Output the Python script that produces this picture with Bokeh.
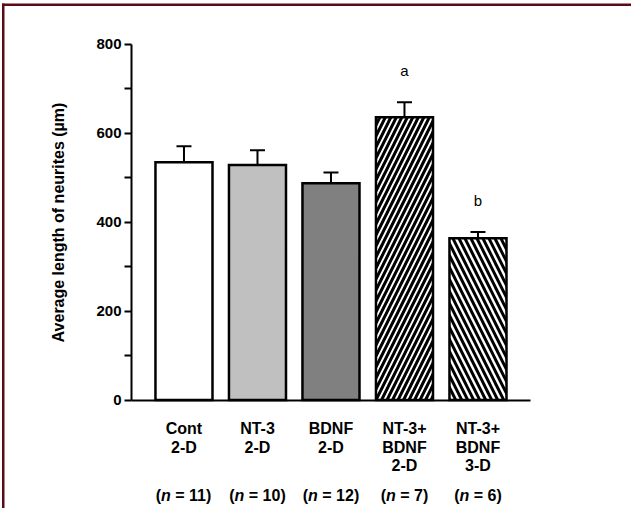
from bokeh.plotting import figure
from bokeh.models import (ColumnDataSource, FixedTicker, Whisker, TeeHead, Label,
                          BoxAnnotation, Range1d)
from bokeh.embed import file_html
from bokeh.resources import INLINE

# ---- data ----
categories = ["Cont\n2-D", "NT-3\n2-D", "BDNF\n2-D", "NT-3+\nBDNF\n2-D", "NT-3+\nBDNF\n3-D"]
means = [535, 529, 488, 636, 364]
sems = [36, 33, 24, 34, 14]
n_values = [11, 10, 12, 7, 6]
sig_letters = ["", "", "", "a", "b"]
fill_colors = ["#ffffff", "#c0c0c0", "#808080", "#ffffff", "#ffffff"]
hatches = [" ", " ", " ", "right_diagonal_line", "left_diagonal_line"]
hatch_scales = [11, 11, 11, 11, 12]
y_ticks = [0, 200, 400, 600, 800]
y_minor = [100, 300, 500, 700]

FONT = "Liberation Sans"
W, H = 631, 508
xs = list(range(1, len(categories) + 1))
uppers = [m + s for m, s in zip(means, sems)]

# pixel geometry of the reference (used only to set the ranges)
PX_X = 73.5          # pixels per category
PX_Y = 0.4444        # pixels per unit
X0_PIX, X0_VAL = 131, 0.286
Y0_PIX = 399.5

x_start = X0_VAL - X0_PIX / PX_X
x_end = X0_VAL + (W - X0_PIX) / PX_X
y_end = Y0_PIX / PX_Y
y_start = -(H - Y0_PIX) / PX_Y

src = ColumnDataSource(dict(x=xs, top=means, upper=uppers, fill=fill_colors,
                            hatch=hatches, hscale=hatch_scales))

p = figure(width=W, height=H, output_backend="svg", toolbar_location=None,
           x_range=Range1d(x_start, x_end), y_range=Range1d(y_start, y_end),
           min_border=0)
p.grid.visible = False
p.outline_line_color = None
p.background_fill_color = "white"
p.border_fill_color = "white"

p.vbar(x="x", top="top", width=0.776, source=src, fill_color="fill",
       line_color="black", line_width=2.5, line_join="miter",
       hatch_pattern="hatch", hatch_color="black", hatch_weight=3,
       hatch_scale="hscale")

w = Whisker(source=src, base="x", lower="top", upper="upper",
            line_color="black", line_width=2,
            upper_head=TeeHead(size=15, line_width=2, line_color="black"),
            lower_head=None)
p.add_layout(w)

# significance letters
for x, u, letter in zip(xs, uppers, sig_letters):
    if letter:
        p.add_layout(Label(x=x, y=u + 72, text=letter, text_align="center",
                           text_baseline="middle", text_font=FONT,
                           text_font_size="15px", text_color="black"))

# y axis (fixed inside the frame)
ya = p.yaxis[0]
ya.fixed_location = X0_VAL
ya.ticker = FixedTicker(ticks=y_ticks, minor_ticks=y_minor)
ya.bounds = (0, 800)
ya.axis_line_width = 2
ya.major_tick_line_width = 2
ya.minor_tick_line_width = 2
ya.major_tick_out = 7
ya.major_tick_in = 0
ya.minor_tick_out = 7
ya.minor_tick_in = 0
ya.major_label_standoff = 3
ya.major_label_text_font = FONT
ya.major_label_text_font_style = "bold"
ya.major_label_text_font_size = "15px"
ya.major_label_text_color = "black"
ya.axis_label = "Average length of neurites (µm)"
ya.axis_label_text_font = FONT
ya.axis_label_text_font_style = "bold"
ya.axis_label_text_font_size = "16px"
ya.axis_label_text_color = "black"
ya.axis_label_standoff = 26

# x axis (fixed at y = 0)
xa = p.xaxis[0]
xa.fixed_location = 0
xa.bounds = (X0_VAL, 5.715)
xa.ticker = FixedTicker(ticks=xs, minor_ticks=[])
xa.major_label_overrides = {x: c for x, c in zip(xs, categories)}
xa.axis_line_width = 2
xa.major_tick_line_color = None
xa.minor_tick_line_color = None
xa.major_label_standoff = 14
xa.major_label_text_font = FONT
xa.major_label_text_font_style = "bold"
xa.major_label_text_font_size = "16px"
xa.major_label_text_line_height = 1.1
xa.major_label_text_color = "black"

# n labels: "(" + italic "n" + "= N)"
FS = 16
for x, n in zip(xs, n_values):
    rest = f"= {n})"
    total = (0.333 + 0.611 + 0.278 * 2 + 0.584 + 0.556 * len(str(n)) + 0.333) * FS
    left = -total / 2
    common = dict(y=-215, text_baseline="middle", text_font=FONT,
                  text_font_size=f"{FS}px", text_color="black", text_align="left")
    p.add_layout(Label(x=x, x_offset=left, text="(", text_font_style="bold", **common))
    p.add_layout(Label(x=x, x_offset=left + 0.333 * FS, text="n",
                       text_font_style="bold italic", **common))
    p.add_layout(Label(x=x, x_offset=left + (0.333 + 0.611 + 0.278) * FS, text=rest,
                       text_font_style="bold", **common))

# frame border (dark red) at left and top (screen y measured from the bottom)
p.add_layout(BoxAnnotation(left=1.5, right=4, top=H - 3, bottom=0, left_units="screen",
                           right_units="screen", top_units="screen",
                           bottom_units="screen", fill_color="#5c0a16",
                           fill_alpha=1, line_color=None, level="overlay"))
p.add_layout(BoxAnnotation(left=1.5, right=W, top=H - 3, bottom=H - 5.5,
                           left_units="screen", right_units="screen",
                           top_units="screen", bottom_units="screen",
                           fill_color="#5c0a16", fill_alpha=1, line_color=None,
                           level="overlay"))

open("out.html", "w").write(file_html(p, INLINE))
